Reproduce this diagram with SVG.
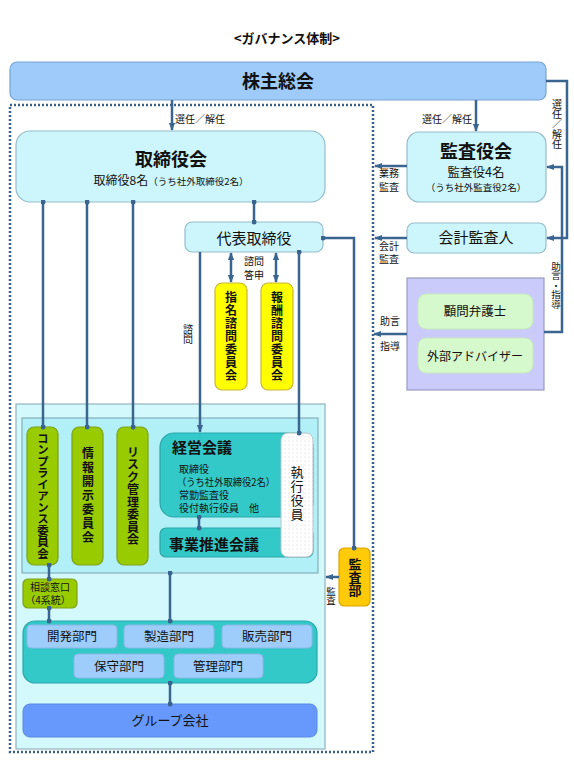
<svg xmlns="http://www.w3.org/2000/svg" width="574" height="766" viewBox="0 0 574 766">
<style>
text{font-family:"Noto Sans CJK JP","Noto Sans",sans-serif;fill:#111;}
.c{text-anchor:middle;}
.v{writing-mode:vertical-rl;text-anchor:middle;}
.b{font-weight:bold;}
.ln{fill:none;stroke:#3a6591;stroke-width:2.5;}
.lb{fill:#cdf6fc;stroke:#94bccb;stroke-width:1.2;}
.grn{fill:#99cc00;stroke:#7d9f1c;stroke-width:1.2;}
.yel{fill:#ffff00;stroke:#c9b53a;stroke-width:1.2;}
.teal{fill:#33c9c9;stroke:#2ba7a7;stroke-width:1.2;}
.dep{fill:#9fcdfb;stroke:#8ab8e6;stroke-width:1;}
</style>
<defs>
<marker id="arr" viewBox="0 0 10 10" refX="9" refY="5" markerWidth="8" markerHeight="8" markerUnits="userSpaceOnUse" orient="auto-start-reverse"><path d="M0,1 L10,5 L0,9 z" fill="#3a6591"/></marker>
<marker id="dot" viewBox="0 0 10 10" refX="5" refY="5" markerWidth="5" markerHeight="5" markerUnits="userSpaceOnUse"><circle cx="5" cy="5" r="5" fill="#3a6591"/></marker>
<pattern id="dots" width="4" height="4" patternUnits="userSpaceOnUse"><rect width="4" height="4" fill="#ffffff"/><circle cx="1" cy="1" r="0.5" fill="#c8c8c8"/></pattern>
</defs>

<rect width="574" height="766" fill="#ffffff"/>

<text x="287" y="43" class="c b" font-size="13">&lt;ガバナンス体制&gt;</text>

<!-- dotted boundary -->
<rect id="boundary" x="10" y="105" width="363" height="647" fill="none" stroke="#3a5f8a" stroke-width="2.5" stroke-dasharray="2 2"/>

<g id="shareholders">
<rect x="10" y="62" width="536" height="38" rx="7" fill="#9fcbfa" stroke="#78a4d6" stroke-width="1.2"/>
<text x="278" y="88" class="c b" font-size="18">株主総会</text>
</g>

<g id="board">
<rect x="16" y="131" width="309" height="71" rx="14" class="lb"/>
<text x="171" y="166" class="c b" font-size="18">取締役会</text>
<text x="171" y="185" class="c"><tspan font-size="12">取締役8名</tspan><tspan font-size="9.5">（うち社外取締役2名）</tspan></text>
</g>

<g id="auditors">
<rect x="407" y="132" width="139" height="70" rx="12" class="lb"/>
<text x="476" y="158" class="c b" font-size="18">監査役会</text>
<text x="476" y="177" class="c" font-size="12.5">監査役4名</text>
<text x="476" y="191" class="c" font-size="9.5">（うち社外監査役2名）</text>
</g>

<g id="accounting-auditor">
<rect x="407" y="223" width="139" height="30" rx="7" class="lb"/>
<text x="476" y="243" class="c" font-size="15">会計監査人</text>
</g>

<g id="advisors">
<rect x="407" y="278" width="137" height="112" fill="#cbcbfb" stroke="#9a9ac0" stroke-width="1.2"/>
<rect x="418" y="294" width="115" height="35" rx="8" fill="#d6f8cd" stroke="#c4e8bb" stroke-width="1"/>
<text x="475" y="316" class="c" font-size="12.5">顧問弁護士</text>
<rect x="418" y="338" width="115" height="35" rx="8" fill="#d6f8cd" stroke="#c4e8bb" stroke-width="1"/>
<text x="475" y="361" class="c" font-size="12">外部アドバイザー</text>
</g>

<g id="representative">
<rect x="185" y="222" width="138" height="30" rx="7" class="lb"/>
<text x="254" y="244" class="c" font-size="15">代表取締役</text>
</g>

<g id="nomination">
<rect x="215" y="283" width="32" height="107" rx="7" class="yel"/>
<text x="231" y="337" class="v b" font-size="12" letter-spacing="1">指名諮問委員会</text>
</g>
<g id="remuneration">
<rect x="261" y="283" width="32" height="107" rx="7" class="yel"/>
<text x="277" y="337" class="v b" font-size="12" letter-spacing="1">報酬諮問委員会</text>
</g>

<g id="panel">
<rect x="16" y="404" width="309" height="345" fill="#d3f9fd" stroke="#8fb3bf" stroke-width="1.2"/>
<rect x="22" y="418" width="296" height="155" fill="#b2f0f8" stroke="#86aebb" stroke-width="1.2"/>
</g>

<g id="compliance">
<rect x="27" y="427" width="31" height="138" rx="7" class="grn"/>
<text x="43" y="496" class="v b" font-size="11.5">コンプライアンス委員会</text>
</g>
<g id="disclosure">
<rect x="72" y="427" width="31" height="138" rx="7" class="grn"/>
<text x="88" y="496" class="v b" font-size="12" letter-spacing="2">情報開示委員会</text>
</g>
<g id="risk">
<rect x="117" y="427" width="31" height="138" rx="7" class="grn"/>
<text x="133" y="496" class="v b" font-size="12" letter-spacing="0.5">リスク管理委員会</text>
</g>

<g id="management-meeting">
<rect x="160" y="433" width="153" height="84" rx="14" class="teal"/>
<text x="172" y="453" class="b" font-size="15">経営会議</text>
<text x="179" y="473" font-size="10">取締役</text>
<text x="177" y="486" font-size="10" textLength="98" lengthAdjust="spacingAndGlyphs">（うち社外取締役2名）</text>
<text x="179" y="499" font-size="10">常勤監査役</text>
<text x="179" y="512" font-size="10">役付執行役員　他</text>
</g>

<g id="business-meeting">
<rect x="160" y="528" width="153" height="29" rx="6" class="teal"/>
<text x="169" y="550" class="b" font-size="15">事業推進会議</text>
</g>

<g id="executive-officers">
<rect x="281" y="433" width="32" height="124" rx="7" fill="url(#dots)" stroke="#b9c4c9" stroke-width="1"/>
<text x="297" y="494" class="v" font-size="13" letter-spacing="1">執行役員</text>
</g>

<g id="internal-audit">
<rect x="339" y="548" width="31" height="58" rx="5" fill="#ffcb08" stroke="#d9a300" stroke-width="1.2"/>
<text x="355" y="577" class="v b" font-size="13">監査部</text>
</g>

<g id="consultation">
<rect x="23" y="579" width="54" height="29" rx="5" class="grn"/>
<text x="50" y="591" class="c" font-size="10">相談窓口</text>
<text x="48" y="604" class="c" font-size="10">（4系統）</text>
</g>

<g id="departments">
<rect x="23" y="621" width="294" height="62" rx="12" class="teal"/>
<rect x="27" y="625" width="90" height="23" rx="4" class="dep"/>
<text x="72" y="641" class="c" font-size="12.5">開発部門</text>
<rect x="124" y="625" width="90" height="23" rx="4" class="dep"/>
<text x="169" y="641" class="c" font-size="12.5">製造部門</text>
<rect x="222" y="625" width="90" height="23" rx="4" class="dep"/>
<text x="267" y="641" class="c" font-size="12.5">販売部門</text>
<rect x="74" y="654" width="90" height="24" rx="4" class="dep"/>
<text x="119" y="671" class="c" font-size="12.5">保守部門</text>
<rect x="174" y="654" width="89" height="24" rx="4" class="dep"/>
<text x="218" y="671" class="c" font-size="12.5">管理部門</text>
</g>

<g id="group-companies">
<rect x="23" y="704" width="294" height="33" rx="7" fill="#6699fb" stroke="#5a88e0" stroke-width="1"/>
<text x="170" y="725" class="c" font-size="13" fill="#1a2a5a">グループ会社</text>
</g>

<g id="connectors">
<path class="ln" d="M172,100 V130" marker-end="url(#arr)"/>
<path class="ln" d="M476,100 V131" marker-end="url(#arr)"/>
<path class="ln" d="M546,81 H567 V238 H547" marker-end="url(#arr)"/>
<path class="ln" d="M544,332 H562 V167 H547" marker-end="url(#arr)"/>
<path class="ln" d="M407,166 H375" marker-end="url(#arr)"/>
<path class="ln" d="M407,238 H375" marker-end="url(#arr)"/>
<path class="ln" d="M407,334 H374" marker-end="url(#arr)"/>
<path class="ln" d="M43,202 V427" marker-start="url(#dot)" marker-end="url(#dot)"/>
<path class="ln" d="M87,202 V427" marker-start="url(#dot)" marker-end="url(#dot)"/>
<path class="ln" d="M133,202 V427" marker-start="url(#dot)" marker-end="url(#dot)"/>
<path class="ln" d="M254,202 V222" marker-start="url(#dot)" marker-end="url(#dot)"/>
<path class="ln" d="M200,252 V432" marker-end="url(#arr)"/>
<path class="ln" d="M231,253 V282" marker-start="url(#arr)" marker-end="url(#arr)"/>
<path class="ln" d="M276,253 V282" marker-start="url(#arr)" marker-end="url(#arr)"/>
<path class="ln" d="M299,252 V433" marker-start="url(#dot)" marker-end="url(#dot)"/>
<path class="ln" d="M323,238 H354 V548" marker-start="url(#dot)" marker-end="url(#dot)"/>
<path class="ln" d="M339,577 H326" marker-end="url(#arr)"/>
<path class="ln" d="M199,517 V528" marker-start="url(#dot)" marker-end="url(#dot)"/>
<path class="ln" d="M49,565 V579" marker-start="url(#dot)" marker-end="url(#dot)"/>
<path class="ln" d="M49,608 V621" marker-start="url(#dot)" marker-end="url(#dot)"/>
<path class="ln" d="M170,573 V621" marker-start="url(#dot)" marker-end="url(#dot)"/>
<path class="ln" d="M170,683 V704" marker-start="url(#dot)" marker-end="url(#dot)"/>
</g>

<g id="connector-labels">
<text x="175" y="123" font-size="10">選任／解任</text>
<text x="472" y="123" font-size="10" text-anchor="end">選任／解任</text>
<text x="557" y="124" class="v" font-size="10">選任／解任</text>
<text x="556" y="285" class="v" font-size="9.5">助言・指導</text>
<text x="389" y="177" class="c" font-size="10">業務</text>
<text x="389" y="191" class="c" font-size="10">監査</text>
<text x="389" y="250" class="c" font-size="10">会計</text>
<text x="389" y="263" class="c" font-size="10">監査</text>
<text x="390" y="325" class="c" font-size="10">助言</text>
<text x="390" y="350" class="c" font-size="10">指導</text>
<text x="254" y="265" class="c" font-size="10">諮問</text>
<text x="254" y="279" class="c" font-size="10">答申</text>
<text x="188" y="334" class="v" font-size="10">諮問</text>
<text x="331" y="596" class="v" font-size="9.5">監査</text>
</g>
</svg>
